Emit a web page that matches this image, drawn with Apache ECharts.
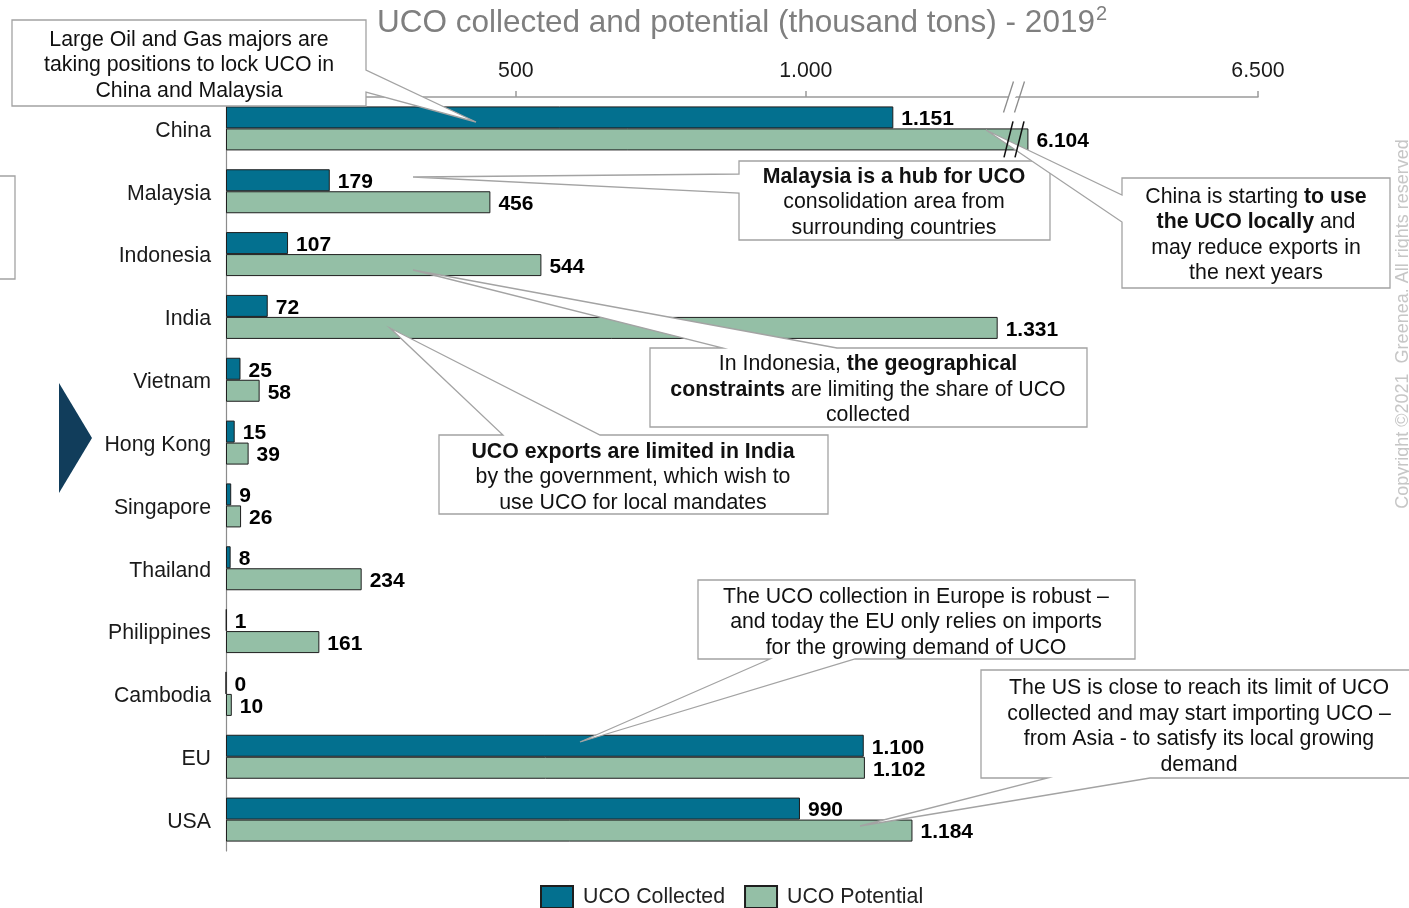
<!DOCTYPE html>
<html>
<head>
<meta charset="utf-8">
<script src="https://cdn.jsdelivr.net/npm/echarts@6/dist/echarts.min.js"></script>
<style>
  html, body { margin: 0; padding: 0; background: #ffffff; }
  #chart { width: 1409px; height: 908px; }
</style>
</head>
<body>
<div id="chart"></div>
<script>
// Used cooking oil (UCO), thousand tons, 2019
const categories = ['China', 'Malaysia', 'Indonesia', 'India', 'Vietnam', 'Hong Kong',
  'Singapore', 'Thailand', 'Philippines', 'Cambodia', 'EU', 'USA'];
const collected = [1151, 179, 107, 72, 25, 15, 9, 8, 1, 0, 1100, 990];
const potential = [6104, 456, 544, 1331, 58, 39, 26, 234, 161, 10, 1102, 1184];
const tickValues = [500, 1000, 6500];
const axisMax = 6500;
const breakStart = 1360;
const breakEnd = 6080;

const FONT = "'Liberation Sans', Arial, Helvetica, sans-serif";
const TXT = 21.3;
const fmt = v => String(v).replace(/\B(?=(\d{3})+(?!\d))/g, '.');

const chart = echarts.init(document.getElementById('chart'), null, { renderer: 'canvas' });

const barLabel = {
  show: true,
  position: 'right',
  distance: 8,
  offset: [0, 2],
  fontFamily: FONT,
  fontSize: 21,
  fontWeight: 'bold',
  color: '#000',
  formatter: p => fmt(p.value)
};

chart.setOption({
  animation: false,
  backgroundColor: '#ffffff',
  textStyle: { fontFamily: FONT },
  title: {
    left: 372,
    top: -1,
    text: '{t|UCO collected and potential (thousand tons) - 2019}{s|2}',
    textStyle: {
      fontWeight: 'normal',
      rich: {
        t: { fontFamily: FONT, fontSize: 31.5, fontWeight: 'normal', color: '#7f7f7f', lineHeight: 38 },
        s: { fontFamily: FONT, fontSize: 20, fontWeight: 'normal', color: '#7f7f7f', lineHeight: 38, verticalAlign: 'top', padding: [0, 0, 0, 1] }
      }
    }
  },
  legend: {
    left: 540,
    top: 885,
    padding: 0,
    itemWidth: 32,
    itemHeight: 22,
    itemGap: 19,
    icon: 'rect',
    textStyle: { fontFamily: FONT, fontSize: TXT, color: '#222', padding: [0, 0, 0, 5] },
    data: ['UCO Collected', 'UCO Potential']
  },
  grid: { left: 226, right: 151, top: 97, bottom: 57, containLabel: false },
  xAxis: {
    type: 'value',
    position: 'top',
    min: 0,
    max: axisMax,
    breaks: [{ start: breakStart, end: breakEnd, gap: 0 }],
    breakArea: { show: false, expandOnClick: false },
    splitLine: { show: false },
    axisLine: { show: true, lineStyle: { color: '#9a9a9a', width: 1.5 } },
    axisTick: { show: true, length: 6, customValues: tickValues, lineStyle: { color: '#9a9a9a', width: 1.5 } },
    axisLabel: {
      customValues: tickValues,
      margin: 15,
      fontFamily: FONT,
      fontSize: TXT,
      color: '#1a1a1a',
      formatter: v => fmt(v)
    }
  },
  yAxis: {
    type: 'category',
    inverse: true,
    data: categories,
    axisLine: { show: true, lineStyle: { color: '#8c8c8c', width: 1.2 } },
    axisTick: { show: false },
    axisLabel: {
      margin: 15,
      formatter: v => '{c|' + v + '}',
      rich: { c: { fontFamily: FONT, fontSize: TXT, color: '#1a1a1a', padding: [5, 0, 0, 0] } }
    }
  },
  series: [
    {
      name: 'UCO Collected',
      type: 'bar',
      data: collected,
      barWidth: 22,
      barGap: '0%',
      itemStyle: { color: '#03708f', borderColor: '#1e1e1e', borderWidth: 1 },
      label: barLabel
    },
    {
      name: 'UCO Potential',
      type: 'bar',
      data: potential,
      barWidth: 22,
      barGap: '0%',
      itemStyle: { color: '#94bfa6', borderColor: '#1e1e1e', borderWidth: 1 },
      label: barLabel
    }
  ]
});

// ---- annotations ----
const callouts = [
  { box: [12, 20, 366, 106], side: 'right', base: [70, 92], tip: [476, 122], cx: 189, cy: 64.5,
    text: 'Large Oil and Gas majors are\ntaking positions to lock UCO in\nChina and Malaysia' },
  { box: [739, 161, 1050, 240], side: 'left', base: [174, 193], tip: [413, 177], cx: 894, cy: 201.5,
    text: '{b|Malaysia is a hub for UCO}\nconsolidation area from\nsurrounding countries' },
  { box: [1122, 178, 1390, 288], side: 'left', base: [195, 222], tip: [986, 130], cx: 1256, cy: 234,
    text: 'China is starting {b|to use}\n{b|the UCO locally} and\nmay reduce exports in\nthe next years' },
  { box: [650, 348, 1087, 427], side: 'top', base: [723, 837], tip: [413, 270], cx: 868, cy: 389,
    text: 'In Indonesia, {b|the geographical}\n{b|constraints} are limiting the share of UCO\ncollected' },
  { box: [439, 435, 828, 514], side: 'top', base: [503, 600], tip: [390, 328], cx: 633, cy: 476.5,
    text: '{b|UCO exports are limited in India}\nby the government, which wish to\nuse UCO for local mandates' },
  { box: [698, 580, 1135, 659], side: 'bottom', base: [770, 855], tip: [580, 742], cx: 916, cy: 621.5,
    text: 'The UCO collection in Europe is robust \u2013\nand today the EU only relies on imports\nfor the growing demand of UCO' },
  { box: [981, 670, 1440, 778], side: 'bottom', base: [1048, 1150], tip: [860, 826], cx: 1199, cy: 725.5,
    text: 'The US is close to reach its limit of UCO\ncollected and may start importing UCO \u2013\nfrom Asia - to satisfy its local growing\ndemand' }
];

function calloutPoints(c) {
  const [x1, y1, x2, y2] = c.box;
  const [a, b] = c.base;
  const t = c.tip;
  switch (c.side) {
    case 'top': return [[x1, y1], [a, y1], t, [b, y1], [x2, y1], [x2, y2], [x1, y2]];
    case 'right': return [[x1, y1], [x2, y1], [x2, a], t, [x2, b], [x2, y2], [x1, y2]];
    case 'bottom': return [[x1, y1], [x2, y1], [x2, y2], [b, y2], t, [a, y2], [x1, y2]];
    default: return [[x1, y1], [x2, y1], [x2, y2], [x1, y2], [x1, b], t, [x1, a]];
  }
}

const graphics = [];
callouts.forEach(c => {
  graphics.push({
    type: 'polygon', z: 100,
    shape: { points: calloutPoints(c) },
    style: { fill: '#ffffff', stroke: '#a3a3a3', lineWidth: 1.3 }
  });
  graphics.push({
    type: 'text', z: 101, x: c.cx, y: c.cy + 1,
    style: {
      text: c.text,
      fontFamily: FONT, fontSize: TXT, fill: '#111', lineHeight: 25.5,
      align: 'center', verticalAlign: 'middle',
      rich: { b: { fontFamily: FONT, fontSize: TXT, fontWeight: 'bold', fill: '#111', lineHeight: 25.5 } }
    }
  });
});

// box cut by the left page edge
graphics.push({
  type: 'rect', z: 100,
  shape: { x: -10, y: 176, width: 25, height: 103 },
  style: { fill: '#ffffff', stroke: '#a3a3a3', lineWidth: 1.3 }
});

// navigation arrow
graphics.push({
  type: 'polygon', z: 100,
  shape: { points: [[59, 383], [92, 438], [59, 493]] },
  style: { fill: '#113d5b' }
});

// copyright notice
graphics.push({
  type: 'text', z: 100, x: 1403, y: 324, rotation: Math.PI / 2,
  style: {
    text: 'Copyright \u00a92021  Greenea. All rights reserved',
    fontFamily: FONT, fontSize: 18, fill: '#c6c6c6',
    align: 'center', verticalAlign: 'middle'
  }
});

// break marks on the axis line and across the China potential bar
const bx = chart.convertToPixel({ xAxisIndex: 0 }, breakStart);
const breakX = (typeof bx === 'number' && isFinite(bx)) ? bx : 1013;
const axisY = 97;
const chinaY = chart.convertToPixel({ yAxisIndex: 0 }, 'China');
const barY = ((typeof chinaY === 'number' && isFinite(chinaY)) ? chinaY : 128.5) + 11;

function slash(x0, yc, h, dx, color, w) {
  return {
    type: 'line', z: 110,
    shape: { x1: x0 - dx / 2, y1: yc + h / 2, x2: x0 + dx / 2, y2: yc - h / 2 },
    style: { stroke: color, lineWidth: w }
  };
}
graphics.push({
  type: 'polygon', z: 109,
  shape: { points: [[breakX - 10, axisY + 6], [breakX - 2, axisY - 6], [breakX + 5, axisY - 6], [breakX - 3, axisY + 6]] },
  style: { fill: '#ffffff' }
});
graphics.push(slash(breakX - 6, axisY, 31, 10, '#8c8c8c', 1.3));
graphics.push(slash(breakX + 5, axisY, 31, 10, '#8c8c8c', 1.3));
graphics.push(slash(breakX - 6, barY, 36, 9, '#111', 1.5));
graphics.push(slash(breakX + 5, barY, 36, 9, '#111', 1.5));

chart.setOption({ graphic: { elements: graphics } });
</script>
</body>
</html>
